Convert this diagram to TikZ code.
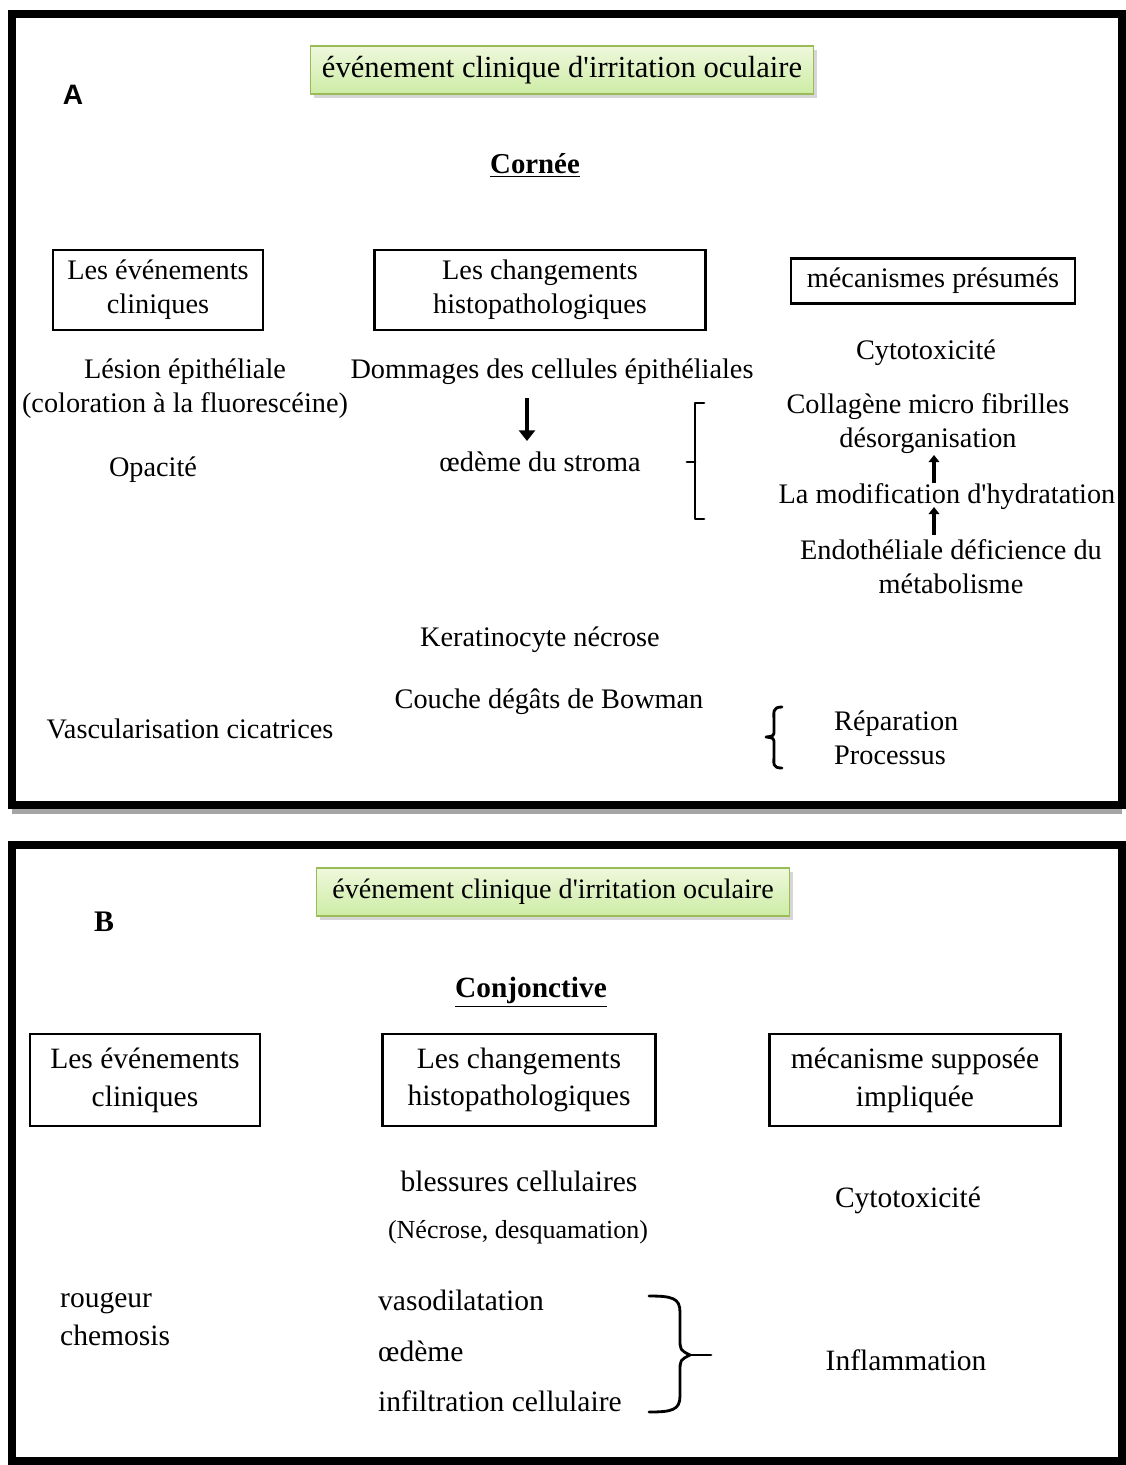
\documentclass[tikz,border=0pt]{standalone}
\usepackage{fontspec}
\setmainfont{Liberation Serif}
\newfontfamily\panelfont{Liberation Sans}
\usetikzlibrary{arrows.meta,shadows,calc}

\definecolor{bannergreen}{RGB}{155,187,89}
\definecolor{bannertop}{RGB}{238,248,220}
\definecolor{bannerbot}{RGB}{205,236,165}

\tikzset{
    panel/.style={draw, line width=4.5pt, fill=white,
        drop shadow={shadow xshift=0pt, shadow yshift=-5pt, fill=black!70, opacity=.5}},
    banner/.style={draw=bannergreen, line width=0.8pt, top color=bannertop, bottom color=bannerbot,
        minimum height=0.96cm, inner xsep=6.5pt, font=\fontsize{17.4}{20}\selectfont,
        drop shadow={shadow xshift=2pt, shadow yshift=-2pt, fill=black!40, opacity=.4}},
    headbox/.style={draw, line width=1.4pt, align=center, inner sep=0pt},
    txt/.style={align=center, font=\fontsize{16.1}{19.3}\selectfont},
    txtb/.style={align=center, font=\fontsize{16.8}{21.5}\selectfont},
    bigarrow/.style={line width=2.4pt, -{Triangle[length=6pt, width=9pt]}},
    smallarrow/.style={line width=2.2pt, -{Triangle[length=4pt, width=6pt]}},
    bracket/.style={line width=1.6pt, line cap=round, line join=round}
}

\begin{document}
\begin{tikzpicture}[x=0.02cm, y=-0.02cm]
    \useasboundingbox (0,0) rectangle (1126,1465);

    % panel A : cornee
    \path[panel] (12,14) rectangle (1122,805);
    \node[banner] (bannerA) at (562,70) {événement clinique d\textquotesingle irritation oculaire};
    \node[font=\panelfont\bfseries\fontsize{16}{19}\selectfont] (labelA) at (73,95) {A};
    \node[font=\bfseries\fontsize{16.4}{19}\selectfont] (cornee) at (535,165) {\underline{Cornée}};

    \node[headbox, txt, minimum width=4.2cm, minimum height=1.6cm] (evtA) at (158,290) {Les événements\\cliniques};
    \node[headbox, txt, minimum width=6.62cm, minimum height=1.6cm] (histA) at (540,290) {Les changements\\histopathologiques};
    \node[headbox, txt, minimum width=5.68cm, minimum height=0.9cm] (mecaA) at (933,281) {mécanismes présumés};

    \node[txt] (lesion) at (185,389) {Lésion épithéliale\\(coloration à la fluorescéine)};
    \node[txt] (opacite) at (153,470) {Opacité};
    \node[txt] (dommages) at (552,372) {Dommages des cellules épithéliales};
    \node[txt] (oedemeA) at (540,462) {œdème du stroma};
    \node[txt] (cytoA) at (926,353) {Cytotoxicité};
    \node[txt] (collagene) at (928,424) {Collagène micro fibrilles\\désorganisation};
    \node[txt] (hydrat) at (947,497) {La modification\ d\textquotesingle hydratation};
    \node[txt] (endoth) at (951,567) {Endothéliale déficience du\\métabolisme};
    \node[txt] (kerat) at (540,640) {Keratinocyte nécrose};
    \node[txt] (bowman) at (549,702) {Couche dégâts de Bowman};
    \node[txt] (vascul) at (190,729) {Vascularisation cicatrices};
    \node[txt, align=left, anchor=west] (repar) at (828,738) {Réparation\\Processus};

    \coordinate (arrA) at (527,0);
    \coordinate (arrM) at (934,0);
    \draw[bigarrow] ($(dommages.center -| arrA)+(0,26)$) -- ($(oedemeA.center -| arrA)+(0,-21)$);
    \draw[smallarrow] ($(hydrat.center -| arrM)+(0,-14)$) -- ($(collagene.center -| arrM)+(0,31)$);
    \draw[smallarrow] ($(endoth.center -| arrM)+(0,-32)$) -- ($(hydrat.center -| arrM)+(0,10)$);

    % crochet et accolade
    \coordinate (brkTop) at (704,403);
    \coordinate (brkBot) at (704,519);
    \coordinate (brkTip) at (687,462);
    \draw[bracket] (brkTop) -- ++(-9,0) -- (695,519) -- (brkBot);
    \draw[bracket] (brkTip) -- (695,462);
    \coordinate (brcTop) at (782,707);
    \coordinate (brcBot) at (782,768);
    \draw[bracket] (brcTop) .. controls (772,707) and (774,712) .. (774,722)
        -- (774,730) .. controls (774,736) .. (766,737)
        .. controls (774,738) .. (774,744) -- (774,754)
        .. controls (774,764) and (772,768) .. (brcBot);

    % panel B : conjonctive
    \path[panel] (12,845) rectangle (1122,1461);
    \node[banner, inner xsep=9pt, font=\fontsize{16}{19}\selectfont] (bannerB) at (553,892) {événement clinique d\textquotesingle irritation oculaire};
    \node[font=\bfseries\fontsize{17}{20}\selectfont] (labelB) at (104,922) {B};
    \node[font=\bfseries\fontsize{16.7}{20}\selectfont] (conj) at (531,992) {\underline{Conjonctive}};

    \node[headbox, txtb, minimum width=4.6cm, minimum height=1.84cm] (evtB) at (145,1080) {Les événements\\cliniques};
    \node[headbox, txtb, minimum width=5.46cm, minimum height=1.84cm] (histB) at (519,1080) {Les changements\\histopathologiques};
    \node[headbox, txtb, minimum width=5.82cm, minimum height=1.84cm] (mecaB) at (915,1080) {mécanisme supposée\\impliquée};

    \node[txtb] (blessures) at (519,1181) {blessures cellulaires};
    \node[txt, font=\fontsize{14.8}{18}\selectfont] (necrose) at (518,1232) {(Nécrose, desquamation)};
    \node[txtb] (cytoB) at (908,1200) {Cytotoxicité};
    \node[txtb, align=left, anchor=west] (rougeur) at (54,1319) {rougeur\\chemosis};
    \node[txtb, anchor=west] (vaso) at (372,1300) {vasodilatation};
    \node[txtb, anchor=west] (oedemeB) at (372,1351) {œdème};
    \node[txtb, anchor=west] (infiltr) at (372,1401) {infiltration cellulaire};
    \node[txtb] (inflam) at (906,1360) {Inflammation};

    \coordinate (accTop) at (649,1296);
    \coordinate (accBot) at (649,1412);
    \coordinate (accTip) at (711,1355);
    \draw[bracket] (accTop) .. controls (672,1296) and (680,1298) .. (680,1312)
        -- (680,1338) .. controls (680,1350) .. (690,1355)
        .. controls (680,1360) .. (680,1372) -- (680,1396)
        .. controls (680,1410) and (672,1412) .. (accBot);
    \draw[bracket] (690,1355) -- (accTip);
\end{tikzpicture}
\end{document}
